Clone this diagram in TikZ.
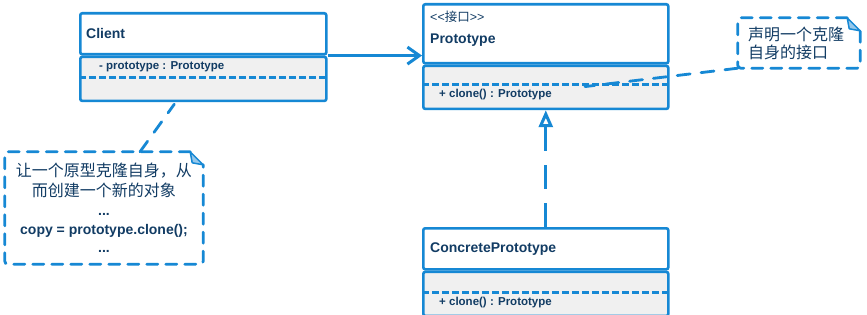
\documentclass[tikz,border=0pt]{standalone}
\usepackage{fontspec}
\setmainfont{Liberation Sans}
\newfontfamily\cjk{Noto Sans CJK SC}
\usetikzlibrary{positioning}
\usetikzlibrary{arrows.meta}

\definecolor{umlblue}{RGB}{22,136,212}
\definecolor{umltext}{RGB}{18,60,100}
\definecolor{umlgray}{RGB}{240,240,240}
\definecolor{foldblue}{RGB}{150,200,235}

\begin{document}
\begin{tikzpicture}[x=1pt, y=-1pt,
                headbox/.style={rectangle, draw=umlblue, fill=white, line width=2.6pt, rounded corners=2pt, anchor=north west, inner sep=0pt, minimum width=245},
                bodybox/.style={rectangle, draw=umlblue, fill=umlgray, line width=2.6pt, rounded corners=2pt, anchor=north west, inner sep=0pt, minimum width=245},
                classname/.style={anchor=west, inner sep=0pt, text=umltext, font=\fontsize{14}{16}\selectfont\bfseries},
                member/.style={anchor=west, inner sep=0pt, text=umltext, font=\fontsize{11.5}{14}\selectfont\bfseries},
                memberline/.style={draw=umlblue, line width=3.4pt, dash pattern=on 7pt off 3pt},
                notetext/.style={rectangle, inner sep=0pt, text=umltext},
                notebox/.style={draw=umlblue, line width=2.8pt, line cap=round, rounded corners=3pt, dash pattern=on 11pt off 8pt},
                notefold/.style={draw=umlblue, fill=foldblue, line width=1.5pt, line join=round},
                anchorline/.style={draw=umlblue, line width=2.8pt, line cap=round, dash pattern=on 13pt off 11pt},
                assoc/.style={draw=umlblue, line width=3pt, -{Straight Barb[length=12pt, width=17pt, line width=3pt]}},
                realize/.style={draw=umlblue, line width=3pt, dash pattern=on 24pt off 14pt, -{Triangle[open, length=17pt, width=14pt, line width=3pt]}},
                ]
                \useasboundingbox[fill=white] (0,0) rectangle (867,315);

                % Client class
                \node[headbox, minimum width=246, minimum height=41] (client) at (79,12) {};
                \node[bodybox, minimum width=246, minimum height=44] (clientbody) at (client.south west) {};
                \node[classname] (clientname) at ([xshift=7pt]client.west) {Client};
                \draw[memberline] ([yshift=-22pt]clientbody.north west) -- ([yshift=-22pt]clientbody.north east);
                \node[member] (clientattr) at ([xshift=20pt, yshift=-11pt]clientbody.north west) {- prototype : Prototype};

                % Prototype interface
                \node[headbox, minimum height=59] (proto) at (422,3) {};
                \node[bodybox, minimum height=43] (protobody) at (proto.south west) {};
                \node[anchor=west, inner sep=0pt, text=umltext, font=\fontsize{12.5}{14}\selectfont] (stereo) at ([xshift=8pt, yshift=-14pt]proto.north west) {\symbol{60}\symbol{60}{\cjk 接口}\symbol{62}\symbol{62}};
                \node[classname] (protoname) at ([xshift=8pt, yshift=-37pt]proto.north west) {Prototype};
                \draw[memberline] ([yshift=-20pt]protobody.north west) -- ([yshift=-20pt]protobody.north east);
                \node[member] (protoop) at ([xshift=17pt, yshift=-30pt]protobody.north west) {+ clone() : Prototype};
                \coordinate (protoanchor) at ([xshift=163pt, yshift=-22pt]protobody.north west);

                % ConcretePrototype class
                \node[headbox, minimum height=41] (concrete) at (422,227) {};
                \node[bodybox, minimum height=44] (concretebody) at (concrete.south west) {};
                \node[classname] (concretename) at ([xshift=8pt]concrete.west) {ConcretePrototype};
                \draw[memberline] ([yshift=-22pt]concretebody.north west) -- ([yshift=-22pt]concretebody.north east);
                \node[member] (concreteop) at ([xshift=17pt, yshift=-32pt]concretebody.north west) {+ clone() : Prototype};

                % notes
                \node[notetext, minimum width=198, minimum height=112, align=center, font=\fontsize{14}{19.5}\selectfont\bfseries] (copynote) at (104,208)
                    {{\cjk\mdseries\fontsize{16}{19.5}\selectfont 让一个原型克隆自身，从}\\
                     {\cjk\mdseries\fontsize{16}{19.5}\selectfont 而创建一个新的对象}\\
                     ...\\[-1pt]
                     copy = prototype.clone();\\[-1pt]
                     ...};
                \node[notetext, minimum width=122, minimum height=50, text width=102, align=left, font=\cjk\fontsize{16}{18}\selectfont] (ifacenote) at (799,43)
                    {声明一个克隆\\自身的接口};

                \draw[notebox] ([xshift=-13pt]copynote.north east) -- (copynote.north west) -- (copynote.south west) -- (copynote.south east) -- ([yshift=-13pt]copynote.north east);
                \draw[notefold] ([xshift=-13pt]copynote.north east) -- ([yshift=-13pt]copynote.north east) -- ([xshift=-11pt, yshift=-11pt]copynote.north east) -- cycle;
                \draw[notebox] ([xshift=-13pt]ifacenote.north east) -- (ifacenote.north west) -- (ifacenote.south west) -- (ifacenote.south east) -- ([yshift=-13pt]ifacenote.north east);
                \draw[notefold] ([xshift=-13pt]ifacenote.north east) -- ([yshift=-13pt]ifacenote.north east) -- ([xshift=-11pt, yshift=-11pt]ifacenote.north east) -- cycle;

                % connectors
                \draw[assoc] (client.south east) -- (proto.west |- client.south east);
                \draw[realize] (concrete.north) -- (concrete.north |- protobody.south);
                \draw[anchorline] ([xshift=36pt]copynote.north) -- ([xshift=-29pt, yshift=-2pt]clientbody.south);
                \draw[anchorline] (ifacenote.south west) -- (protoanchor);
            \end{tikzpicture}
\end{document}
